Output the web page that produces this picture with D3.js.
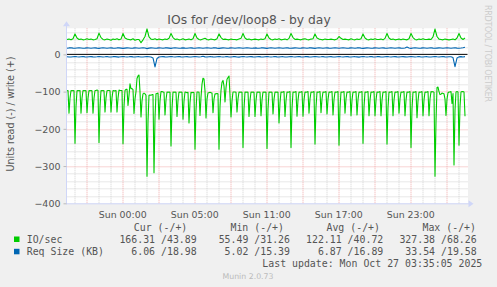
<!DOCTYPE html>
<html>
<head>
<meta charset="utf-8">
<script src="https://cdn.jsdelivr.net/npm/d3@7"></script>
<style>
  body { margin: 0; background: #f0f0f0; }
  svg { display: block; font-family: "DejaVu Sans", sans-serif; }
  .mono { font-family: "DejaVu Sans Mono", monospace; }
</style>
</head>
<body>
<div id="chart"></div>
<script>
// Time is kept in elapsed minutes since Sun 00:00 (the DST fall-back hour is inside the range)
const startMinute = -276;
const readStep = 5;    // minutes between IO/sec read samples
const otherStep = 10;  // minutes between the other samples

// IO/sec, read (drawn below zero)
const ioRead = [
  98,97,158,118,97,98,97,98,239,140,98,97,98,97,158,118,97,98,97,98,157,118,97,98,
  97,98,158,118,97,97,96,97,237,140,97,98,97,98,155,117,98,97,97,98,155,117,97,98,
  98,97,155,118,96,97,97,97,240,140,97,94,94,137,110,79,92,92,95,159,120,100,65,58,
  55.49,100,168,125,106,104,106,110,327.38,180,110,109,110,108,108,318,170,106,105,104,174,125,100,100,
  101,102,163,122,101,102,101,102,246,145,101,102,101,102,167,124,101,102,101,102,174,126,101,102,
  103,102,184,130,102,103,102,103,255,150,101,101,102,164,115,80,64,66,98,171,120,103,103,102,
  103,104,157,120,106,106,105,106,255,140,97,75,70,85,128,90,67,62,58,110,168,125,101,101,
  101,102,155,120,101,102,101,102,250,145,101,102,101,102,167,124,101,102,101,102,167,124,101,102,
  101,102,165,123,101,102,101,102,253,146,101,102,101,102,160,121,101,102,101,102,184,130,101,102,
  101,100,167,124,101,102,101,100,250,145,101,102,101,100,166,123,101,102,101,100,166,123,101,102,
  101,100,158,120,101,102,101,100,241,142,101,102,101,100,157,120,101,102,101,100,160,121,101,102,
  101,100,163,122,101,102,101,100,244,143,101,102,101,100,158,120,101,102,101,100,165,123,101,102,
  101,100,163,122,101,102,101,100,239,141,101,102,101,100,165,123,101,102,101,100,165,123,101,102,
  101,100,165,123,101,102,101,100,241,142,101,102,101,100,165,123,101,102,101,100,158,120,101,102,
  101,100,165,123,101,102,101,100,250,145,101,102,101,100,170,125,101,102,101,100,165,123,101,102,
  101,100,165,120,100,101,100,102,327,180,89,88,100,108,107,104,105,106,120,164,120,103,101,101,
  100,132,105,297,150,101,100,101,244,140,101,100,100,101,166.31
];

// IO/sec, write
const ioWrite = [
  40,41,39,42,55,44,40,41,39,40,42,40,
  41,39,40,42,57,45,40,39,41,40,38,41,
  40,42,39,41,56,44,41,40,39,42,38,40,
  40,31.26,39,48,68.26,47,41,40,42,39,41,40,
  39,41,40,43,56,45,40,41,39,40,42,39,
  40,41,39,42,56,44,40,39,41,43,40,39,
  41,40,39,42,55,45,40,41,40,39,41,40,
  40,39,41,43,56,44,40,41,39,40,41,40,
  39,41,40,42,55,44,40,39,41,40,42,39,
  40,41,39,43,56,45,40,41,40,39,41,42,
  40,39,41,42,55,44,41,40,39,41,40,40,
  41,40,39,41,48,43,40,41,40,39,42,40,
  39,41,40,42,55,44,40,39,41,40,42,40,
  40,41,39,43,56,44,40,41,39,40,41,39,
  41,40,39,42,56,45,40,39,41,40,42,40,
  40,41,40,47,68,48,41,40,39,41,40,39,
  40,41,39,44,56,44,40,43.89
];

// Req Size (KB), read (drawn below zero)
const reqRead = [
  6.2,6.9,7.2,6.4,5.8,6.6,7.1,6.5,5.9,6.7,7.0,6.3,
  6.0,6.8,7.1,6.5,5.6,6.4,7.2,6.6,5.8,6.9,7.0,6.2,
  6.1,6.7,7.3,6.4,5.7,6.5,7.0,6.6,6.0,6.8,7.1,6.3,
  6.2,6.9,7.0,6.5,5.9,6.6,7.2,9.5,33.54,11.0,7.1,6.4,
  6.0,6.8,7.2,6.3,5.6,6.6,7.1,6.5,5.9,6.7,7.2,6.4,
  6.1,6.9,7.1,6.5,5.8,6.4,7.0,6.6,5.02,6.8,7.1,6.3,
  6.2,6.8,7.2,6.4,5.7,6.5,7.1,6.6,5.9,6.9,7.0,6.2,
  6.0,6.9,7.3,6.5,5.8,6.6,7.0,6.5,6.0,6.7,7.1,6.4,
  6.1,6.8,7.1,6.3,5.6,6.5,7.2,6.6,5.8,6.8,7.0,6.3,
  6.2,6.9,7.0,6.4,5.9,6.6,7.1,6.5,5.9,6.7,7.2,6.2,
  6.0,6.7,7.2,6.5,5.7,6.4,7.0,6.6,6.0,6.9,7.1,6.3,
  6.1,6.9,7.1,6.4,5.8,6.6,7.2,6.5,5.8,6.8,7.0,6.4,
  6.2,6.8,7.3,6.5,5.6,6.5,7.1,6.6,5.9,6.7,7.1,6.2,
  6.0,6.9,7.0,6.3,5.9,6.6,7.0,6.5,6.0,6.8,7.2,6.3,
  6.1,6.7,7.2,6.4,5.7,6.4,7.1,6.6,5.8,6.9,7.0,6.4,
  6.2,6.9,7.1,6.5,5.8,6.6,7.2,6.5,5.9,6.7,7.1,6.3,
  6.3,8.5,33.0,10.0,6.8,6.1,6.9,6.06
];

// Req Size (KB), write
const reqWrite = [
  16.5,17.3,17.6,16.8,16.3,16.9,17.5,17.1,16.4,16.8,17.4,16.9,
  16.4,17.2,17.5,16.7,16.2,17.0,17.6,17.0,16.5,16.9,17.3,16.8,
  16.6,17.3,17.4,16.8,16.1,16.8,17.5,17.1,16.3,16.7,17.4,17.0,
  16.5,17.1,17.6,16.9,15.39,16.7,17.4,17.0,16.4,16.8,17.5,16.9,
  16.4,17.3,17.5,16.8,16.2,16.9,17.6,17.1,16.5,16.8,17.3,16.8,
  16.6,17.2,17.4,16.7,16.3,17.0,17.5,17.0,16.4,16.9,17.4,16.9,
  16.5,17.3,17.6,16.8,16.2,16.8,17.4,17.1,16.3,16.8,17.5,17.0,
  16.4,17.1,17.5,16.9,16.3,16.9,17.6,17.0,16.5,16.7,17.3,16.8,
  16.6,17.3,17.4,16.8,16.1,17.0,17.5,17.1,16.4,16.9,17.4,16.9,
  16.5,17.2,17.6,16.7,16.3,16.8,17.4,17.0,16.3,16.8,17.5,17.0,
  16.4,17.3,17.5,16.8,16.2,16.9,17.6,17.1,16.5,16.9,17.3,16.8,
  16.6,17.1,17.4,16.9,16.3,17.0,17.5,17.0,16.4,16.7,17.4,16.9,
  16.5,17.3,17.6,16.8,16.2,16.8,17.4,17.1,16.3,16.8,17.5,17.0,
  16.4,17.2,17.5,16.7,16.3,16.9,17.6,17.0,16.5,16.9,17.3,16.8,
  16.6,17.3,19.58,17.2,16.1,17.0,17.5,17.1,16.4,16.8,17.4,16.9,
  16.5,17.1,17.6,16.8,16.3,16.8,17.4,17.0,16.3,16.9,17.5,17.0,
  16.5,17.2,17.6,16.8,16.4,17.0,17.8,18.98
];

const xTickMinutes = [0, 360, 720, 1080, 1440];
const xTickLabels = ['Sun 00:00', 'Sun 05:00', 'Sun 11:00', 'Sun 17:00', 'Sun 23:00'];
const yTickValues = [0, -100, -200, -300, -400];

const legendHeaders = ['Cur (-/+)', 'Min (-/+)', 'Avg (-/+)', 'Max (-/+)'];
const legendNames = ['IO/sec', 'Req Size (KB)'];
const legendColors = ['#00cc00', '#0066b3'];
const legendValues = [
  ['166.31 /43.89', '55.49 /31.26', '122.11 /40.72', '327.38 /68.26'],
  ['6.06 /18.98', '5.02 /15.39', '6.87 /16.89', '33.54 /19.58']
];

const width = 497, height = 287;
const margin = {left: 66.5, top: 28.3};
const plotW = 400, plotH = 175;

const svg = d3.select('#chart').append('svg')
    .attr('width', width)
    .attr('height', height);

svg.append('rect')
    .attr('width', width)
    .attr('height', height)
    .attr('fill', '#f0f0f0');

const xScale = d3.scaleLinear().domain([-278.5, 1721.5]).range([0, plotW]);
const yScale = d3.scaleLinear().domain([-400, 70]).range([plotH, 0]);

const chart = svg.append('g')
    .attr('transform', `translate(${margin.left},${margin.top})`);

chart.append('rect')
    .attr('width', plotW + 1.5)
    .attr('height', plotH)
    .attr('fill', '#fff');

// grid: minor every hour / 20 units, major every 3 hours / 100 units
const minorX = d3.range(-240, 1721, 60).filter(m => m % 180 !== 0);
const majorX = d3.range(-180, 1721, 180);
const minorY = d3.range(-380, 71, 20).filter(v => v % 100 !== 0);
const majorY = [-300, -200, -100];

const grid = chart.append('g').attr('class', 'grid');
grid.selectAll('.vminor').data(minorX).join('line')
    .attr('x1', d => Math.round(xScale(d)) + 0.5).attr('x2', d => Math.round(xScale(d)) + 0.5)
    .attr('y1', 0).attr('y2', plotH)
    .attr('stroke', '#d2d2d2').attr('stroke-dasharray', '1,1');
grid.selectAll('.hminor').data(minorY).join('line')
    .attr('x1', 0).attr('x2', plotW + 1)
    .attr('y1', d => Math.round(yScale(d)) + 0.5).attr('y2', d => Math.round(yScale(d)) + 0.5)
    .attr('stroke', '#d2d2d2').attr('stroke-dasharray', '1,1');
grid.selectAll('.vmajor').data(majorX).join('line')
    .attr('x1', d => Math.round(xScale(d)) + 0.5).attr('x2', d => Math.round(xScale(d)) + 0.5)
    .attr('y1', 0).attr('y2', plotH)
    .attr('stroke', '#f0a8a8').attr('stroke-dasharray', '1,1');
grid.selectAll('.hmajor').data(majorY).join('line')
    .attr('x1', 0).attr('x2', plotW + 1)
    .attr('y1', d => Math.round(yScale(d)) + 0.5).attr('y2', d => Math.round(yScale(d)) + 0.5)
    .attr('stroke', '#f0a8a8').attr('stroke-dasharray', '1,1');

// series
const lineFor = (step, sign) => d3.line()
    .x((d, i) => xScale(startMinute + i * step))
    .y(d => yScale(sign * d));

const series = [
  {data: reqWrite, step: otherStep, sign: 1, color: '#0066b3'},
  {data: reqRead, step: otherStep, sign: -1, color: '#0066b3'},
  {data: ioWrite, step: otherStep, sign: 1, color: '#00cc00'},
  {data: ioRead, step: readStep, sign: -1, color: '#00cc00'}
];

chart.selectAll('.series').data(series).join('path')
    .attr('class', 'series')
    .attr('fill', 'none')
    .attr('stroke', d => d.color)
    .attr('stroke-width', 1.1)
    .attr('stroke-linejoin', 'round')
    .attr('d', d => lineFor(d.step, d.sign)(d.data));

// zero rule
chart.append('line')
    .attr('x1', 0).attr('x2', plotW + 1)
    .attr('y1', yScale(0)).attr('y2', yScale(0))
    .attr('stroke', '#000').attr('stroke-width', 1);

// axes (light blue with arrows)
const axisColor = '#cfd6f8';
chart.append('line')
    .attr('x1', -0.5).attr('x2', plotW + 5)
    .attr('y1', plotH + 0.5).attr('y2', plotH + 0.5)
    .attr('stroke', axisColor);
chart.append('path')
    .attr('d', `M${plotW + 2},${plotH - 3} L${plotW + 7},${plotH + 0.5} L${plotW + 2},${plotH + 4} Z`)
    .attr('fill', axisColor);
chart.append('line')
    .attr('x1', 0).attr('x2', 0)
    .attr('y1', plotH + 1).attr('y2', -4)
    .attr('stroke', axisColor);
chart.append('path')
    .attr('d', `M-3.5,-2 L0,-7 L3.5,-2 Z`)
    .attr('fill', axisColor);

// tick labels
const xAxis = d3.axisBottom(xScale)
    .tickValues(xTickMinutes)
    .tickSize(0)
    .tickPadding(0)
    .tickFormat((d, i) => xTickLabels[i]);
const xAxisG = chart.append('g')
    .attr('transform', `translate(0,${plotH + 14.5})`)
    .call(xAxis)
    .call(g => g.select('.domain').remove());
xAxisG.selectAll('text')
    .attr('dy', 0)
    .attr('fill', '#555')
    .style('font-family', '"DejaVu Sans", sans-serif')
    .style('font-size', '9.4px');

const yAxis = d3.axisLeft(yScale)
    .tickValues(yTickValues)
    .tickSize(3)
    .tickPadding(3);
const yAxisG = chart.append('g')
    .call(yAxis)
    .call(g => g.select('.domain').remove());
yAxisG.selectAll('line').attr('stroke', '#bbb');
yAxisG.selectAll('text')
    .attr('fill', '#555')
    .attr('dy', '0.34em')
    .style('font-family', '"DejaVu Sans", sans-serif')
    .style('font-size', '9.5px');

// titles
svg.append('text')
    .attr('x', 249)
    .attr('y', 23.5)
    .attr('text-anchor', 'middle')
    .attr('fill', '#555')
    .style('font-size', '12.3px')
    .text('IOs for /dev/loop8 - by day');

svg.append('text')
    .attr('transform', 'translate(13.5,114) rotate(-90)')
    .attr('text-anchor', 'middle')
    .attr('fill', '#555')
    .style('font-size', '9.6px')
    .text('Units read (-) / write (+)');

svg.append('text')
    .attr('transform', 'translate(484.5,53.5) rotate(90)')
    .attr('text-anchor', 'middle')
    .attr('fill', '#cccccc')
    .attr('textLength', 97)
    .attr('lengthAdjust', 'spacing')
    .style('font-size', '8px')
    .text('RRDTOOL / TOBI OETIKER');

// legend
const headerEnds = [187.3, 284, 380, 476];
const valueEnds = [196.7, 290, 383.3, 476.7];
const legend = svg.append('g').attr('class', 'mono').attr('fill', '#555').style('font-size', '9.9px');

legend.selectAll('.hdr').data(legendHeaders).join('text')
    .attr('x', (d, i) => headerEnds[i])
    .attr('y', 231.3)
    .attr('text-anchor', 'end')
    .text(d => d);

legendNames.forEach((name, r) => {
  const y = 243 + r * 12.3;
  legend.append('rect')
      .attr('x', 14).attr('y', y - 6.5)
      .attr('width', 5.5).attr('height', 5.5)
      .attr('fill', legendColors[r]);
  legend.append('text')
      .attr('x', 26.7).attr('y', y)
      .text(name);
  legend.selectAll(`.val${r}`).data(legendValues[r]).join('text')
      .attr('x', (d, i) => valueEnds[i])
      .attr('y', y)
      .attr('text-anchor', 'end')
      .text(d => d);
});

legend.append('text')
    .attr('x', 482.3)
    .attr('y', 267.3)
    .attr('text-anchor', 'end')
    .text('Last update: Mon Oct 27 03:35:05 2025');

svg.append('text')
    .attr('x', 248)
    .attr('y', 279)
    .attr('text-anchor', 'middle')
    .attr('fill', '#bbb')
    .style('font-size', '7.8px')
    .text('Munin 2.0.73');
</script>
</body>
</html>
